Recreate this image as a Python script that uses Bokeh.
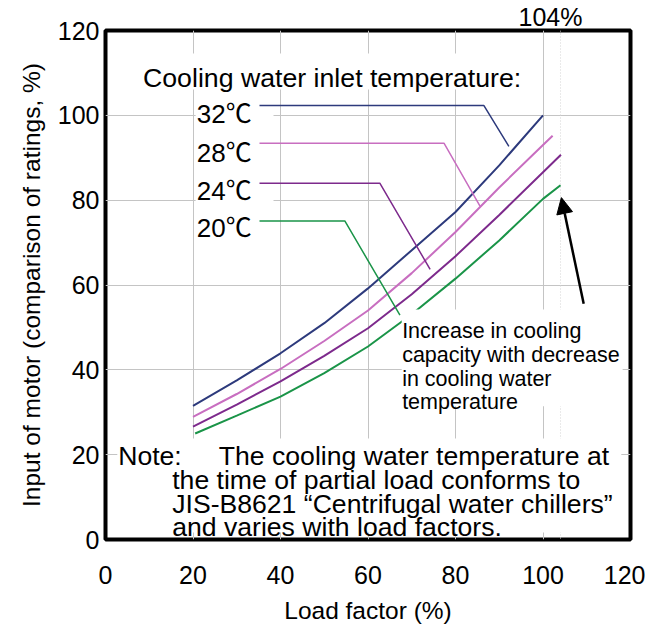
from bokeh.plotting import figure
from bokeh.models import Label, BoxAnnotation, Span, Arrow, NormalHead, Title
from bokeh.embed import file_html
from bokeh.resources import INLINE

FONT = "Liberation Sans"
CJK_FONT = "'Liberation Sans', 'Noto Sans CJK JP'"

# ---------------- data ----------------
temps = ["32℃", "28℃", "24℃", "20℃"]
colors = ["#2d3a7c", "#c86ec0", "#7d2a8c", "#1a9448"]

load_32 = [20, 30, 40, 50, 60, 70, 80, 90, 100]
input_32 = [31.5, 37.5, 43.9, 51.0, 59.2, 68.2, 77.2, 88.2, 100.0]
load_28 = [20, 30, 40, 50, 60, 70, 80, 90, 100, 102.2]
input_28 = [28.9, 34.3, 40.2, 46.8, 54.0, 62.8, 72.5, 83.0, 93.0, 95.2]
load_24 = [20, 30, 40, 50, 60, 70, 80, 90, 100, 104.1]
input_24 = [26.6, 31.8, 37.3, 43.3, 49.8, 57.8, 66.8, 76.5, 86.6, 90.7]
load_20 = [20.5, 30, 40, 50, 60, 70, 80, 90, 100, 104]
input_20 = [25.0, 29.2, 33.7, 39.2, 45.5, 53.1, 61.5, 70.5, 80.3, 83.5]

loads = [load_32, load_28, load_24, load_20]
inputs = [input_32, input_28, input_24, input_20]

# leader lines from labels to curves
lead_x = [[35.2, 86.5, 92.2], [35.2, 77.4, 85.6], [35.2, 62.7, 74.2], [35.2, 54.7, 67.3]]
lead_y = [[102.3, 102.3, 92.7], [93.4, 93.4, 78.6], [84.0, 84.0, 63.7], [75.1, 75.1, 52.9]]

ticks = [0, 20, 40, 60, 80, 100, 120]
max_load = 104

header = "Cooling water inlet temperature:"
note_lines = ["the time of partial load conforms to",
              "JIS-B8621 \u201cCentrifugal water chillers\u201d",
              "and varies with load factors."]
note_first = ("Note:", "The cooling water temperature at")
annot_lines = ["Increase in cooling", "capacity with decrease",
               "in cooling water", "temperature"]

# ---------------- figure ----------------
p = figure(frame_width=525, frame_height=509, x_range=(0, 120), y_range=(0, 120),
           output_backend="svg", toolbar_location=None,
           min_border_left=105, min_border_right=15, min_border_top=29, min_border_bottom=78)
p.background_fill_color = "white"
p.border_fill_color = "white"
p.outline_line_color = "black"
p.outline_line_width = 4

for ax in (p.xaxis, p.yaxis):
    ax.ticker = ticks
    ax.axis_line_color = None
    ax.major_tick_line_color = None
    ax.minor_tick_line_color = None
    ax.major_tick_out = 0
    ax.major_tick_in = 0
    ax.minor_tick_out = 0
    ax.minor_tick_in = 0
    ax.major_label_text_font = FONT
    ax.major_label_text_font_size = "25px"
    ax.major_label_text_color = "black"
    ax.axis_label_text_font = FONT
    ax.axis_label_text_font_size = "24.5px"
    ax.axis_label_text_font_style = "normal"
    ax.axis_label_text_color = "black"

p.xaxis.axis_label = "Load factor (%)"
p.yaxis.axis_label = "Input of motor (comparison of ratings, %)"
p.xaxis.major_label_standoff = 26
p.xaxis.axis_label_standoff = 10
p.yaxis.major_label_standoff = 6
p.yaxis.axis_label_standoff = 10

p.grid.grid_line_color = "#c4c4c4"
p.grid.grid_line_width = 1

p.add_layout(Span(location=max_load, dimension="height", line_color="#d4d4d4",
                  line_width=1, line_dash="1 2", level="underlay"))

# white masks hiding grid behind text
for (l, r, b, t) in [(8.0, 96.5, 106.1, 114.6), (20.6, 38.4, 71.2, 106.6), (2.7, 117.9, 1.65, 23.8)]:
    p.add_layout(BoxAnnotation(left=l, right=r, bottom=b, top=t, fill_color="white",
                               fill_alpha=1, line_color=None, level="underlay"))

# curves and leaders
for xs, ys, lx, ly, c in zip(loads, inputs, lead_x, lead_y, colors):
    p.line(xs, ys, line_color=c, line_width=2)
    p.line(lx, ly, line_color=c, line_width=1.5)

# box behind annotation text (covers part of the 20C curve)
p.add_layout(BoxAnnotation(left=67.7, right=118.2, bottom=31.4, top=54.2, fill_color="white",
                           fill_alpha=1, line_color=None))

p.add_layout(Arrow(x_start=109.3, y_start=55.6, x_end=104.2, y_end=80.6, line_width=2.5,
                   line_color="black",
                   end=NormalHead(size=16, fill_color="black", line_color="black")))

# texts
def lab(x, y, text, size, font=FONT, align="left"):
    p.add_layout(Label(x=x, y=y, text=text, text_font=font, text_font_size=size,
                       text_color="black", text_baseline="alphabetic", text_align=align))

lab(8.57, 108.9, header, "26.7px")
for t, y in zip(temps, [100.2, 91.2, 82.2, 73.5]):
    lab(20.85, y, t, "26px", CJK_FONT)

lab(2.9, 19.8, note_first[0], "26.6px")
lab(25.9, 19.8, note_first[1], "26.6px")
for t, y in zip(note_lines, [14.07, 8.42, 2.83]):
    lab(15.25, y, t, "26.6px")

for t, y in zip(annot_lines, [49.2, 43.5, 37.9, 32.3]):
    lab(67.8, y, t, "21.5px")

# "104%" marker above the frame
p.add_layout(Title(text=f"{max_load}%", align="left", offset=413, standoff=0,
                   vertical_align="bottom", text_font=FONT, text_font_size="25px",
                   text_font_style="normal", text_color="black"), "above")

open("out.html", "w").write(file_html(p, INLINE))
